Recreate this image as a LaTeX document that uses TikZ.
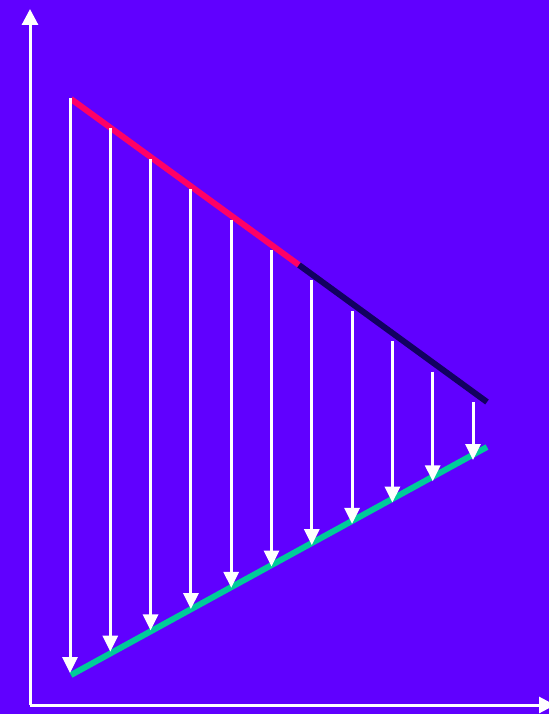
\documentclass[tikz,border=0pt]{standalone}
\usetikzlibrary{arrows.meta,calc}
\definecolor{bgviolet}{RGB}{96,0,255}
\definecolor{linered}{RGB}{255,0,102}
\definecolor{linenavy}{RGB}{18,0,96}
\definecolor{linegreen}{RGB}{0,204,153}

\begin{document}
\begin{tikzpicture}[x=1pt,y=-1pt,
  axis/.style={draw=white, line width=3pt, -{Triangle[length=16pt,width=16pt]}},
  drop/.style={draw=white, line width=3pt, -{Triangle[length=16pt,width=15pt]}},
  slope/.style={line width=6pt}
  ]

\fill[bgviolet] (0,0) rectangle (549,714);
\useasboundingbox (0,0) rectangle (549,714);

% axes
\coordinate (origin) at (30,705);
\coordinate (ytop) at (30,9);
\coordinate (xend) at (555,705);
\draw[axis] (origin) -- (ytop);
\draw[axis] (origin) -- (xend);

% upper and lower lines
\coordinate (upA) at (71,99);
\coordinate (upM) at (299,265);
\coordinate (upB) at (487,402);
\coordinate (lowA) at (71,675);
\coordinate (lowB) at (487,447);
\draw[slope, linered] (upA) -- (upM);
\draw[slope, linenavy] (upM) -- (upB);
\draw[slope, linegreen] (lowA) -- (lowB);

% vertical arrows
\coordinate (s0) at (70,98);
\coordinate (s10) at (473,402);
\coordinate (e0) at (70,673);
\coordinate (e10) at (473,460);
\foreach \i in {0,...,10}{
  \coordinate (top\i) at ($(s0)!\i/10!(s10)$);
  \coordinate (tip\i) at ($(e0)!\i/10!(e10)$);
  \draw[drop] (top\i) -- (tip\i);
}

\end{tikzpicture}
\end{document}
